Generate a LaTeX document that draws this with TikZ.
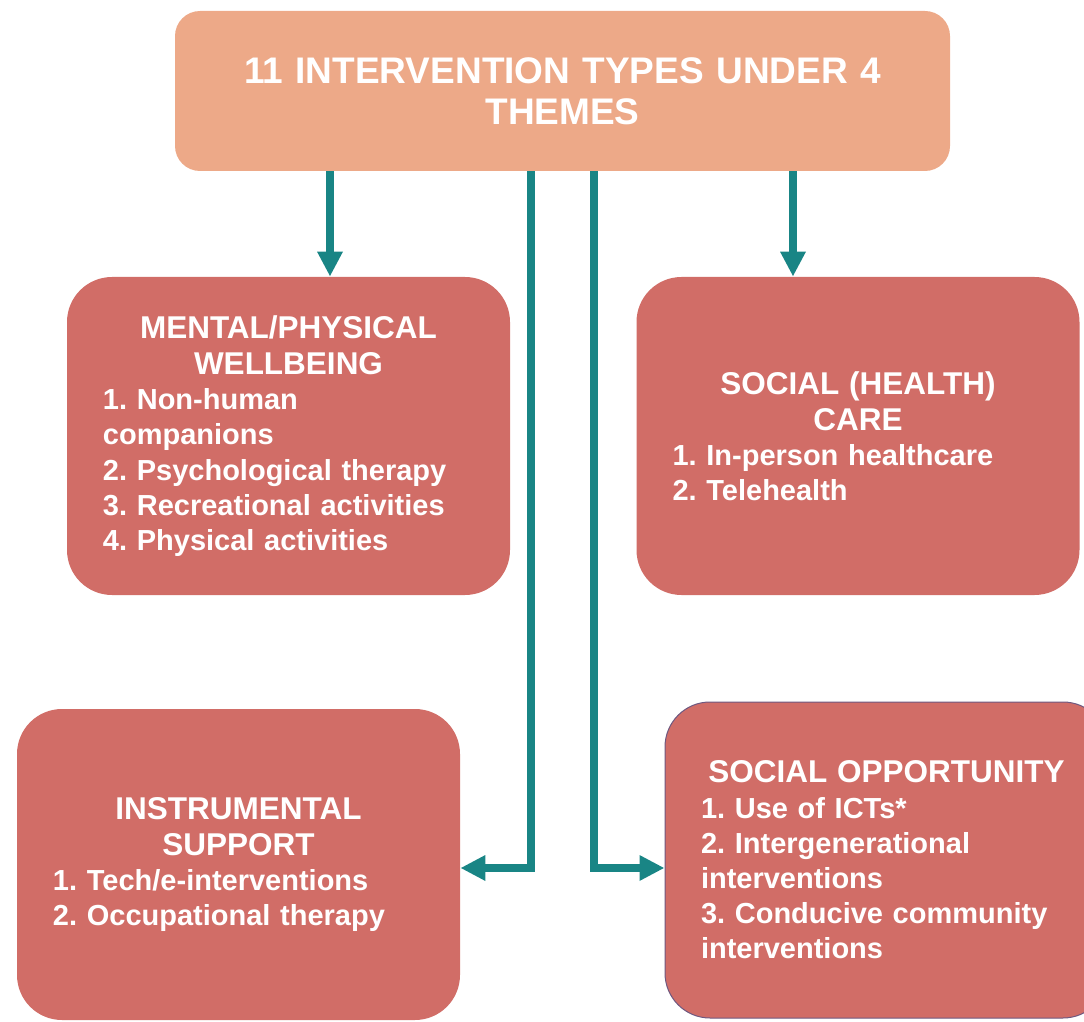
\documentclass[tikz,border=0pt]{standalone}
\usepackage{fontspec}
\setmainfont{Liberation Sans}
\usepackage{xcolor}
\usetikzlibrary{arrows.meta}
\definecolor{titlefill}{RGB}{237,169,136}
\definecolor{themefill}{RGB}{209,109,103}
\definecolor{linkteal}{RGB}{25,133,133}
\setlength{\parindent}{0pt}
\hyphenpenalty=10000
\frenchspacing
\newcommand{\themehead}[1]{{\centering\fontsize{15.75}{18}\selectfont #1\par}}

\begin{document}
\begin{tikzpicture}[x=0.5pt, y=-0.5pt]
    \tikzstyle{title} = [fill=titlefill, rounded corners=12.5pt, minimum width=387.5pt, minimum height=80pt, text width=370pt, align=center, text=white, inner sep=0pt, font=\fontsize{18.5}{20.5}\selectfont\bfseries]
    \tikzstyle{theme} = [fill=themefill, rounded corners=22.5pt, minimum width=221.5pt, minimum height=159pt, text width=185.5pt, align=left, text=white, inner sep=0pt, font=\fontsize{14.5}{17.6}\selectfont\bfseries]
    \tikzstyle{link} = [draw=linkteal, line width=4pt, -{Triangle[width=12pt,length=12.5pt]}]
    \useasboundingbox (0,0) rectangle (1084,1022);
    \clip (0,0) rectangle (1084,1022);
    \node [title] at (562.5,91) (types) {11 INTERVENTION TYPES UNDER 4\\THEMES};
    \node [theme] at (288.5,436) (wellbeing) {\themehead{MENTAL/PHYSICAL\\WELLBEING}1. Non-human\\companions\\2. Psychological therapy\\3. Recreational activities\\4. Physical activities};
    \node [theme] at (858,436) (care) {\themehead{SOCIAL (HEALTH)\\CARE}1. In-person healthcare\\2. Telehealth};
    \node [theme, minimum height=155.5pt] at (238.5,864.5) (support) {\themehead{INSTRUMENTAL\\SUPPORT}1. Tech/e-interventions\\2. Occupational therapy};
    \node [theme, minimum height=158pt, draw={rgb,255:red,110;green,88;blue,128}, line width=0.5pt] at (886.5,860) (opportunity) {\themehead{SOCIAL OPPORTUNITY}1. Use of ICTs*\\2. Intergenerational\\interventions\\3. Conducive community\\interventions};
    \draw [link] (types.south -| 330,0) -- (wellbeing.north -| 330,0);
    \draw [link] (types.south -| 793,0) -- (care.north -| 793,0);
    \draw [link] (types.south -| 531,0) |- (support.east |- 0,868);
    \draw [link] (types.south -| 594,0) |- (opportunity.west |- 0,868);
\end{tikzpicture}
\end{document}
